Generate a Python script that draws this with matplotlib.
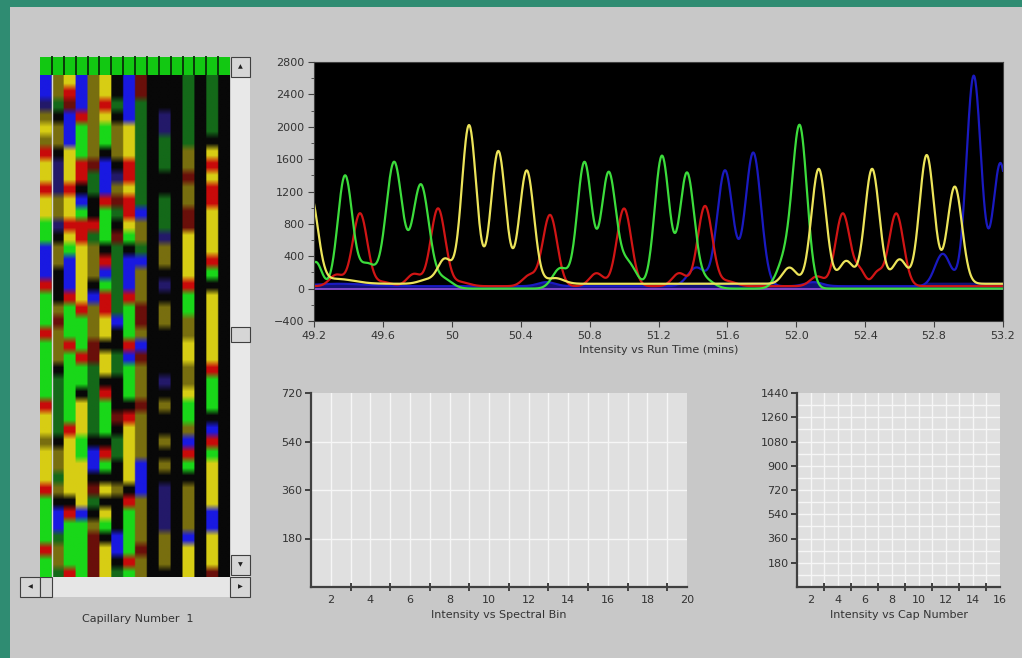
import numpy as np
import matplotlib
matplotlib.use("Agg")
import matplotlib.pyplot as plt
from matplotlib.patches import Rectangle
from matplotlib.ticker import MultipleLocator

W, H = 1022, 658

# --- data -------------------------------------------------------------
# base calls per capillary (one string per column, top row first)
capillary_calls = [
    "BBbyYyRYYRYYGGBBBRGGGRGGGGGRYYyYYYRGGGGRGG",
    "yygKyyKbbbyybKyyKKKyryyyKgggggKyygyKBBgyyg",
    "YRrBBBYYYRYYRYGBBBRGGGRGGGGGGRYYYYYKRGGGGR",
    "BBBRGGGRRKBGRRYYYYYRGGGRGGKYYYGGYYYYBGGGGG",
    "yyyyyyyrggKKRgyyyKByyyrrggggggKBBKrgKyrrrr",
    "YYRYGGKBBBRGGGKRBGRRYYKYYKRGGGKRGKYKYGKYYY",
    "KKgKyyyKbyrgKrggggggBKKggKKKrKggKKyKKKBBKg",
    "BBBBYYYRRYRRYGKBBBRGGGRBGGGKRYYYYYKRGGGGRG",
    "rrgggggggggByygByyyrryBryyyryyyyBBByyyyryy",
    "K" * 42,
    "KKKbbgggKKgggbyyKbKyyKKKKbKyKKyKyKbbbbyyyK",
    "K" * 42,
    "ggggggyyryyrrYYYYRGGyyYYyyYGGyBRGKyyyyBYYY",
    "K" * 42,
    "gggggKYRYRRYYYYRGKYYYYYYRGGGKBRGYYYYBBYYYr",
    "K" * 42,
]
call_rgb = {
    "G": (25, 215, 25), "g": (20, 105, 25),
    "Y": (215, 205, 20), "y": (120, 110, 15),
    "R": (200, 10, 10), "r": (105, 15, 10),
    "B": (25, 25, 225), "b": (35, 25, 105),
    "K": (8, 8, 8),
}

# electropherogram peaks: centre (mins), height, width (sigma, mins)
green_times = [49.21, 49.38, 49.51, 49.665, 49.82, 49.95, 50.63, 50.77, 50.91,
               51.02, 51.22, 51.365, 51.47, 51.93, 52.02]
green_heights = [330, 1390, 300, 1560, 1280, 120, 250, 1560, 1410,
                 320, 1640, 1420, 110, 320, 1980]
green_widths = [.035, .042, .05, .047, .047, .05, .045, .042, .042,
                .05, .042, .042, .05, .045, .042]

yellow_times = [49.18, 49.33, 49.86, 49.96, 50.10, 50.27, 50.435, 50.6, 51.96,
                52.13, 52.29, 52.44, 52.6, 52.757, 52.92]
yellow_heights = [1080, 60, 50, 300, 1960, 1640, 1400, 70, 200,
                  1420, 280, 1420, 300, 1590, 1200]
yellow_widths = [.042, .1, .05, .04, .042, .042, .042, .05, .04,
                 .042, .04, .042, .04, .042, .042]

red_times = [49.33, 49.467, 49.6, 49.78, 49.92, 50.05, 50.45, 50.57, 50.84,
             51.0, 51.32, 51.47, 51.6, 52.12, 52.27, 52.37, 52.47, 52.58]
red_heights = [140, 900, 50, 150, 960, 50, 130, 880, 160,
               960, 160, 990, 60, 120, 900, 180, 160, 900]
red_widths = [.04, .042, .05, .04, .042, .05, .04, .042, .04,
              .042, .04, .042, .05, .04, .042, .03, .03, .042]

blue_times = [49.35, 50.55, 51.42, 51.586, 51.75, 52.1, 52.85, 53.03, 53.185]
blue_heights = [30, 50, 230, 1430, 1650, 50, 400, 2600, 1520]
blue_widths = [.15, .05, .05, .045, .045, .05, .045, .042, .042]

baselines = {"green": 0, "yellow": 60, "red": 30, "blue": 30}

run_ticks = [49.2, 49.6, 50.0, 50.4, 50.8, 51.2, 51.6, 52.0, 52.4, 52.8, 53.2]
run_labels = ["49.2", "49.6", "50", "50.4", "50.8", "51.2", "51.6", "52.0",
              "52.4", "52.8", "53.2"]
spectral_labels = [2, 4, 6, 8, 10, 12, 14, 16, 18, 20]
cap_labels = [2, 4, 6, 8, 10, 12, 14, 16]


def px_rect(x0, y0, x1, y1):
    return [x0 / W, 1 - y1 / H, (x1 - x0) / W, (y1 - y0) / H]


def trace(t, times, heights, widths, base):
    y = np.full_like(t, float(base))
    for t0, h, w in zip(times, heights, widths):
        y += h * np.exp(-0.5 * ((t - t0) / w) ** 2)
    return y


TXT = "#333333"
fig = plt.figure(figsize=(W / 100, H / 100), dpi=100, facecolor="#2f8c72")

# window chrome
bg = fig.add_axes([0, 0, 1, 1])
bg.set_xlim(0, W)
bg.set_ylim(H, 0)
bg.axis("off")
bg.add_patch(Rectangle((10, 7), W - 10, H - 7, color="#c8c8c8", lw=0))

# green header above the capillary image
bg.add_patch(Rectangle((40, 57), 190, 18, color="#12c812", lw=0))
for i in range(1, 16):
    bg.plot([40 + i * 190 / 16] * 2, [57, 75], color="#0a3a0a", lw=1.4)


def button(x0, y0, x1, y1, glyph=None):
    bg.add_patch(Rectangle((x0, y0), x1 - x0, y1 - y0, facecolor="#d6d6d6",
                           edgecolor="#404040", lw=0.8))
    if glyph:
        bg.text((x0 + x1) / 2, (y0 + y1) / 2, glyph, fontsize=4.5,
                color="#202020", ha="center", va="center")


bg.add_patch(Rectangle((231, 57), 19, 520, color="#e8e8e8", lw=0))
button(231, 57, 250, 77, "\u25b2")
button(231, 327, 250, 342)
button(231, 555, 250, 575, "\u25bc")
bg.add_patch(Rectangle((20, 577), 230, 20, color="#e6e6e6", lw=0))
button(20, 577, 40, 597, "\u25c0")
button(40, 577, 52, 597)
button(230, 577, 250, 597, "\u25b6")
bg.text(138, 619, "Capillary Number  1", fontsize=8, color=TXT,
        ha="center", va="center")

# capillary image, softened vertically like the scanned bands
img = np.array([[call_rgb[c] for c in col] for col in capillary_calls],
               dtype=float).transpose(1, 0, 2) / 255
up = 8
big = np.repeat(np.repeat(img, up, axis=0), up, axis=1)
pad = np.pad(big, ((2, 2), (0, 0), (0, 0)), mode="edge")
kernel = np.ones(5) / 5
big = np.apply_along_axis(lambda v: np.convolve(v, kernel, mode="valid"), 0, pad)
ax_img = fig.add_axes(px_rect(40, 75, 230, 577))
ax_img.imshow(big, aspect="auto", interpolation="bilinear")
ax_img.set_ylim(big.shape[0] - 0.5 - 2, -0.5)
ax_img.axvline(up - 0.5, color="#d8d8d8", lw=1)
ax_img.axis("off")

# electropherogram
t = np.linspace(49.2, 53.2, 1600)
ax = fig.add_axes(px_rect(314, 62, 1003, 321))
ax.set_facecolor("black")
blue = trace(t, blue_times, blue_heights, blue_widths, baselines["blue"])
red = trace(t, red_times, red_heights, red_widths, baselines["red"])
green = trace(t, green_times, green_heights, green_widths, baselines["green"])
yellow = trace(t, yellow_times, yellow_heights, yellow_widths, baselines["yellow"])
ax.fill_between(t, 0, np.minimum(blue, 80), color="#121275", lw=0)
ax.axhline(0, color="#8a4fd0", lw=1.3)
ax.plot(t, blue, color="#1a1ac0", lw=1.6)
ax.plot(t, red, color="#d01515", lw=1.6)
ax.plot(t, green, color="#3cdc3c", lw=1.6)
ax.plot(t, yellow, color="#ece45a", lw=1.6)
ax.set_xlim(49.2, 53.2)
ax.set_ylim(-400, 2800)
ax.set_yticks(range(-400, 2801, 400))
ax.yaxis.set_minor_locator(MultipleLocator(200))
ax.set_xticks(run_ticks)
ax.set_xticklabels(run_labels)
ax.tick_params(labelsize=8, colors="#404040", labelcolor=TXT, length=4, pad=3)
ax.tick_params(which="minor", length=2, colors="#404040")
for s in ax.spines.values():
    s.set_color("#404040")
ax.set_xlabel("Intensity vs Run Time (mins)", fontsize=8, color=TXT, labelpad=3)


def small_chart(rect, xmax, ymax, ystep, hgrid, xlabels, title):
    a = fig.add_axes(px_rect(*rect))
    a.set_facecolor("#e0e0e0")
    a.set_xlim(1, xmax)
    a.set_ylim(0, ymax)
    for x in range(2, xmax):
        a.axvline(x, color="#f6f6f6", lw=1.0, zorder=0)
    for y in np.arange(hgrid, ymax, hgrid):
        a.axhline(y, color="#f6f6f6", lw=1.0, zorder=0)
    a.set_xticks(range(3, xmax, 2))
    a.set_xticklabels([])
    a.set_xticks(xlabels, minor=True)
    a.set_xticklabels([str(v) for v in xlabels], minor=True)
    a.set_yticks(np.arange(ystep, ymax + 1, ystep))
    a.tick_params(axis="x", which="major", direction="inout", length=6,
                  width=1.4, colors="#404040")
    a.tick_params(axis="x", which="minor", length=0, labelsize=8,
                  labelcolor=TXT, pad=6)
    a.tick_params(axis="y", length=4, width=1.4, colors="#404040",
                  labelsize=8, labelcolor=TXT, pad=2)
    for side in ("top", "right"):
        a.spines[side].set_visible(False)
    for side in ("left", "bottom"):
        a.spines[side].set_color("#404040")
        a.spines[side].set_linewidth(1.6)
    a.set_xlabel(title, fontsize=8, color=TXT, labelpad=3)
    return a


small_chart((311, 393, 687, 587), 20, 720, 180, 180, spectral_labels,
            "Intensity vs Spectral Bin")
small_chart((797, 393, 1000, 587), 16, 1440, 180, 90, cap_labels,
            "Intensity vs Cap Number")

fig.savefig("out.png", dpi=100, facecolor=fig.get_facecolor())
